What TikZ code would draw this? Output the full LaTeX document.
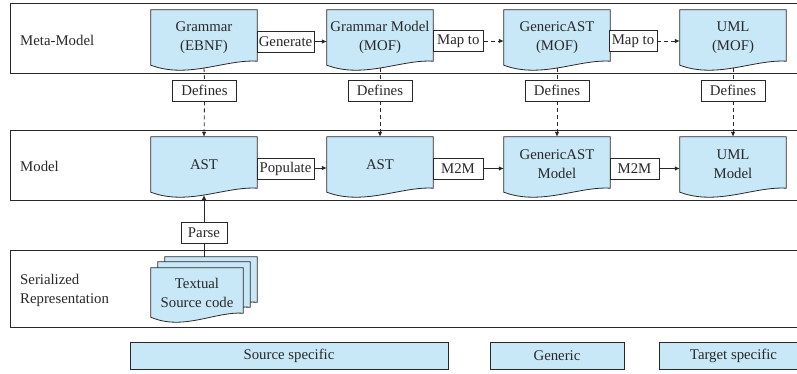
\documentclass[tikz,border=0pt]{standalone}
\usepackage{fontspec}
\setmainfont{Liberation Serif}
\usetikzlibrary{arrows.meta,calc,backgrounds}
\definecolor{docblue}{RGB}{200,232,248}
\definecolor{ink}{RGB}{40,40,40}
\tikzset{
  base/.style={font=\fontsize{14.8}{19}\selectfont, text=ink},
  doc/.style={base, rectangle, inner sep=0pt, align=center},
  docfill/.style={fill=docblue, draw=ink, line width=0.8pt},
  lbl/.style={base, draw=ink, fill=white, line width=0.8pt, inner sep=0pt, minimum height=21pt},
  lane/.style={draw=ink, line width=0.8pt},
  lanelbl/.style={base, anchor=west, align=left, inner sep=0pt},
  legend/.style={base, draw=ink, fill=docblue, line width=0.8pt, inner sep=0pt, minimum height=27pt},
  arr/.style={draw=ink, line width=0.8pt, -{Latex[length=5pt,width=4.5pt]}},
  dsh/.style={draw=ink, line width=0.8pt, dash pattern=on 4pt off 3pt},
}
\newcommand\docshape[1]{%
  \begin{pgfonlayer}{background}
  \filldraw[docfill] (#1.north west) -- (#1.north east) -- ([yshift=4pt]#1.south east)
    .. controls ($(#1.south west)!0.7!(#1.south east)+(0,6pt)$) and ($(#1.south west)!0.35!(#1.south east)+(0,-14pt)$) .. (#1.south west) -- cycle;
  \end{pgfonlayer}}
\begin{document}
\begin{tikzpicture}[x=1pt,y=-1pt]
\useasboundingbox (0,0) rectangle (797,374);
% lanes
\draw[lane] (10,3) rectangle (812,73);
\draw[lane] (10,130) rectangle (812,200);
\draw[lane] (10,250) rectangle (812,327);
\node[lanelbl] (l1) at (20,40) {Meta-Model};
\node[lanelbl] (l2) at (20,166) {Model};
\node[lanelbl] (l3) at (20,290) {Serialized\\Representation};
% meta docs
\node[doc, minimum width=106pt, minimum height=55pt] (gram) at (204,37.5) {Grammar\\(EBNF)};
\node[doc, minimum width=106pt, minimum height=55pt] (gmod) at (380,37.5) {Grammar Model\\(MOF)};
\node[doc, minimum width=106pt, minimum height=55pt] (gast) at (557,37.5) {GenericAST\\(MOF)};
\node[doc, minimum width=106pt, minimum height=55pt] (uml) at (733,37.5) {UML\\(MOF)};
\docshape{gram}\docshape{gmod}\docshape{gast}\docshape{uml}
% model docs
\node[doc, minimum width=106pt, minimum height=55pt] (ast1) at (204,164.5) {AST};
\node[doc, minimum width=106pt, minimum height=55pt] (ast2) at (380,164.5) {AST};
\node[doc, minimum width=106pt, minimum height=55pt] (gastm) at (557,164.5) {GenericAST\\Model};
\node[doc, minimum width=106pt, minimum height=55pt] (umlm) at (733,164.5) {UML\\Model};
\docshape{ast1}\docshape{ast2}\docshape{gastm}\docshape{umlm}
% source stack
\node[doc, minimum width=92pt, minimum height=49pt] (src3) at (211,281.5) {};
\node[doc, minimum width=92pt, minimum height=49pt] (src2) at (204,286.5) {};
\node[doc, minimum width=92pt, minimum height=49pt] (src) at (197,292.5) {Textual\\Source code};
\docshape{src3}\docshape{src2}\docshape{src}
% horizontal labels
\node[lbl, minimum width=57pt] (gen) at (285.5,41.5) {Generate};
\node[lbl, minimum width=50pt] (map1) at (458.3,41) {Map to};
\node[lbl, minimum width=48pt] (map2) at (633,41) {Map to};
\node[lbl, minimum width=57pt] (pop) at (285.5,169) {Populate};
\node[lbl, minimum width=50pt] (m2m1) at (458,168.5) {M2M};
\node[lbl, minimum width=49pt] (m2m2) at (634.5,168.5) {M2M};
\draw[arr] (gen.east) -- (gen.east -| gmod.west);
\draw[arr, dash pattern=on 4pt off 3pt] (map1.east) -- (map1.east -| gast.west);
\draw[arr, dash pattern=on 4pt off 3pt] (map2.east) -- (map2.east -| uml.west);
\draw[arr] ([yshift=1pt]pop.east) -- ([yshift=1pt]pop.east -| ast2.west);
\draw[arr] (m2m1.east) -- (m2m1.east -| gastm.west);
\draw[arr] (m2m2.east) -- (m2m2.east -| umlm.west);
% defines
\foreach \a/\b/\n/\x in {gram/ast1/d1/204.5, gmod/ast2/d2/380, gast/gastm/d3/557, uml/umlm/d4/733}{
  \node[lbl, minimum width=64pt] (\n) at (\x,90.5) {Defines};
  \draw[dsh] ([yshift=-2.75pt]\a.south) -- (\n.north);
  \draw[dsh, arr] (\n.south) -- (\b.north);
}
% parse
\node[lbl, minimum width=46pt] (parse) at (204,232.5) {Parse};
\draw[draw=ink, line width=0.8pt] (parse.south) -- (parse.south |- src3.north);
\draw[arr] (parse.north) -- ([yshift=-2.75pt]ast1.south);
% legend
\node[legend, minimum width=318pt] (leg1) at (289,355.5) {Source specific};
\node[legend, minimum width=134pt] (leg2) at (557,355.5) {Generic};
\node[legend, minimum width=149pt] (leg3) at (733.5,355.5) {Target specific};
\end{tikzpicture}
\end{document}
